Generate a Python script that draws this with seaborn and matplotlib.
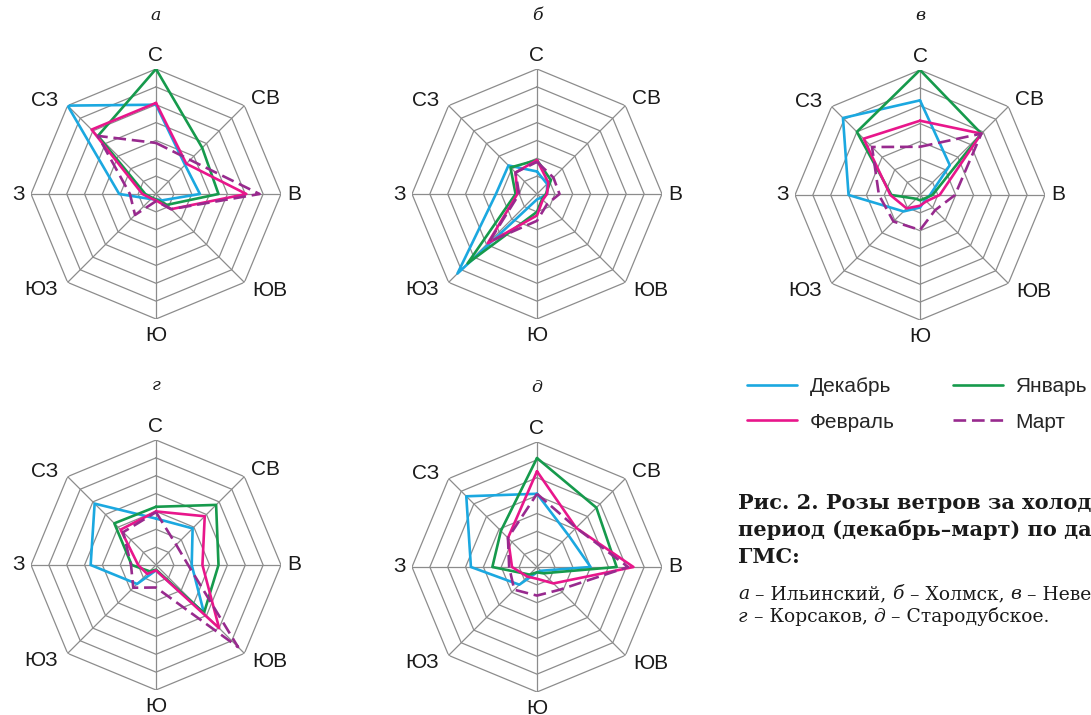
import numpy as np
import pandas as pd
import matplotlib
matplotlib.use("Agg")
import matplotlib.pyplot as plt
from matplotlib.lines import Line2D
import seaborn as sns

# румбы по часовой стрелке от севера
directions = ["С", "СВ", "В", "ЮВ", "Ю", "ЮЗ", "З", "СЗ"]
months = ["Декабрь", "Январь", "Февраль", "Март"]
panel_letters = ["а", "б", "в", "г", "д"]

# повторяемость ветра, % (кольцо сетки = 5 %)
ilinsky_dec = [25, 11.5, 12.3, 2.5, 1.5, 2, 10.3, 35]
ilinsky_jan = [35, 18.3, 17.5, 4.3, 1.5, 1.5, 3, 23]
ilinsky_feb = [25.5, 12, 25.3, 6, 1.8, 1.8, 3.8, 25.5]
ilinsky_mar = [14.3, 13.5, 29, 6, 2, 8.3, 7.3, 23]

kholmsk_dec = [6.3, 4, 2.8, 1.5, 1.5, 31.5, 11.5, 11.3]
kholmsk_jan = [9.5, 5.5, 2.5, 2, 5, 27.5, 6, 10.5]
kholmsk_feb = [9.5, 4.5, 2.8, 2.3, 6, 19.5, 5.5, 8.5]
kholmsk_mar = [9, 6.5, 6.3, 4, 7.5, 19, 5, 8.5]

nevelsk_dec = [26.5, 11.8, 2.8, 2, 3.5, 6.5, 20, 30.5]
nevelsk_jan = [35, 24.3, 3.5, 1.5, 1.5, 1.5, 8, 25]
nevelsk_feb = [20.8, 24.3, 5.5, 2.5, 3, 5.3, 8.3, 22.3]
nevelsk_mar = [13.5, 24.3, 9.8, 6, 9.8, 10.5, 11.5, 19]

korsakov_dec = [13, 14.5, 10, 19, 1.5, 7.5, 18.3, 24.3]
korsakov_jan = [16.3, 23.8, 17.5, 19, 1.3, 2.5, 6.8, 16.5]
korsakov_feb = [15, 19.3, 13, 25, 1.5, 3.5, 5, 14]
korsakov_mar = [14.8, 8, 9, 32.5, 6.3, 9, 7, 13]

starodub_dec = [20.5, 12.5, 15, 1.5, 1.5, 7, 18.5, 28]
starodub_jan = [30.5, 23.5, 22.3, 2.5, 1.5, 3, 12.5, 14.3]
starodub_feb = [26.8, 15.5, 27, 6.5, 3.3, 3.8, 7, 11.5]
starodub_mar = [20.5, 15.5, 25.5, 9, 8, 9, 7.8, 11.5]

stations = [
    [ilinsky_dec, ilinsky_jan, ilinsky_feb, ilinsky_mar],
    [kholmsk_dec, kholmsk_jan, kholmsk_feb, kholmsk_mar],
    [nevelsk_dec, nevelsk_jan, nevelsk_feb, nevelsk_mar],
    [korsakov_dec, korsakov_jan, korsakov_feb, korsakov_mar],
    [starodub_dec, starodub_jan, starodub_feb, starodub_mar],
]
ring_levels = [5, 10, 15, 20, 25, 30, 35]

colors = {"Декабрь": "#1ba8e0", "Январь": "#169a4c", "Февраль": "#e8168b", "Март": "#982a8e"}
styles = {"Декабрь": "-", "Январь": "-", "Февраль": "-", "Март": (0, (4.8, 2.2))}

sns.set_style("white")
plt.rcParams["font.family"] = ["Liberation Sans", "DejaVu Sans"]
serif = ["DejaVu Serif", "Liberation Serif"]

W, H = 1091, 715
fig = plt.figure(figsize=(W / 100, H / 100), dpi=100)

centers = [(156, 194), (537, 194), (920, 195), (156, 565), (537, 567)]
R = 125

theta = np.deg2rad(np.arange(8) * 45.0)
theta_closed = np.append(theta, theta[0])

label_offsets = {
    "С": ((0, 3), "center", "bottom"),
    "СВ": ((5, 5), "left", "center"),
    "В": ((4.5, 0), "left", "center"),
    "ЮВ": ((6, -6), "left", "center"),
    "Ю": ((0, -5), "center", "top"),
    "ЮЗ": ((-7, -5), "right", "center"),
    "З": ((-4.5, 0), "right", "center"),
    "СЗ": ((-7, 4), "right", "center"),
}

overlay = fig.add_axes([0, 0, 1, 1])
overlay.set_xlim(0, W)
overlay.set_ylim(H, 0)
overlay.axis("off")

for k, (cx, cy) in enumerate(centers):
    ax = fig.add_axes([(cx - R) / W, (H - cy - R) / H, 2 * R / W, 2 * R / H],
                      projection="polar")
    ax.set_theta_zero_location("N")
    ax.set_theta_direction(-1)
    ax.set_ylim(0, ring_levels[-1])
    ax.grid(False)
    ax.spines["polar"].set_visible(False)
    ax.set_xticks([])
    ax.set_yticks([])
    ax.patch.set_alpha(0)

    # восьмиугольная сетка
    for lev in ring_levels:
        ax.plot(theta_closed, [lev] * 9, color="#8c8c8c", lw=0.9, zorder=1)
    for t in theta:
        ax.plot([t, t], [0, ring_levels[-1]], color="#8c8c8c", lw=0.9, zorder=1)

    for m, vals in zip(months, stations[k]):
        df = pd.DataFrame({"theta": theta_closed, "value": vals + vals[:1]})
        sns.lineplot(data=df, x="theta", y="value", sort=False, estimator=None,
                     color=colors[m], linestyle=styles[m], lw=1.9, ax=ax, zorder=3)
    ax.set_xlabel("")
    ax.set_ylabel("")

    for t, d in zip(theta, directions):
        off, ha, va = label_offsets[d]
        ax.annotate(d, xy=(t, ring_levels[-1]), xytext=off, textcoords="offset points",
                    ha=ha, va=va, fontsize=15, color="#1a1a1a", annotation_clip=False)

    overlay.text(cx, cy - R - 54, panel_letters[k], ha="center", va="center",
                 family=serif, style="italic", fontsize=12.5, color="#1a1a1a")

handles = [Line2D([], [], color=colors[m], linestyle=styles[m], lw=1.9)
           for m in ["Декабрь", "Февраль", "Январь", "Март"]]
fig.legend(handles, ["Декабрь", "Февраль", "Январь", "Март"], loc="upper left",
           bbox_to_anchor=(747 / W, 1 - 377 / H), ncol=2, frameon=False, fontsize=15,
           handlelength=2.4, handletextpad=0.6, columnspacing=2.8, labelspacing=0.8,
           borderpad=0, borderaxespad=0)

# подпись к рисунку (в оригинале обрезана правым краем)
caption_lines = ["Рис. 2. Розы ветров за холодный", "период (декабрь–март) по данным", "ГМС:"]
for txt, base in zip(caption_lines, [509, 536, 563]):
    overlay.text(738, base, txt, ha="left", va="baseline", family=serif,
                 fontweight="bold", fontsize=15, color="#1a1a1a")


def rich_line(x, y, parts):
    first_text, first_it = parts[0]
    prev = overlay.text(x, y, first_text, ha="left", va="baseline", family=serif,
                        style="italic" if first_it else "normal", fontsize=13.5, color="#1a1a1a")
    for txt, it in parts[1:]:
        prev = overlay.annotate(txt, xy=(1, 0), xycoords=prev, ha="left", va="bottom",
                                family=serif, style="italic" if it else "normal",
                                fontsize=13.5, color="#1a1a1a", annotation_clip=False)


rich_line(738, 599, [("а", True), (" – Ильинский, ", False), ("б", True), (" – Холмск, ", False),
                     ("в", True), (" – Невельск,", False)])
rich_line(738, 622, [("г", True), (" – Корсаков, ", False), ("д", True), (" – Стародубское.", False)])

fig.savefig("out.png", dpi=100)
